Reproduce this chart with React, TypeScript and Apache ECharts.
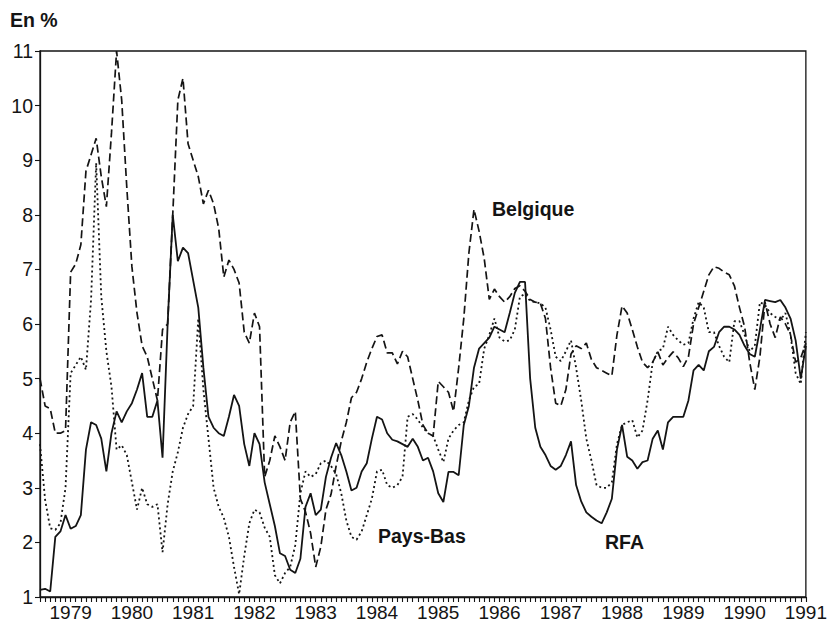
import React, { useEffect, useRef } from "react";
import * as echarts from "echarts";

// Monthly categories, July 1978 to January 1991
const months: string[] = [];
for (let y = 1978; y <= 1991; y++) {
  for (let m = 1; m <= 12; m++) {
    if ((y === 1978 && m < 7) || (y === 1991 && m > 1)) continue;
    months.push(`${y}-${String(m).padStart(2, "0")}`);
  }
}

const rfa: number[] = [
  1.13, 1.15, 1.1, 2.1, 2.2, 2.5,
  2.25, 2.3, 2.5, 3.7, 4.2, 4.15, 3.9, 3.3, 4.0, 4.4, 4.2, 4.4,
  4.55, 4.8, 5.1, 4.3, 4.3, 4.6, 3.55, 6.0, 8.0, 7.15, 7.4, 7.3,
  6.8, 6.3, 5.2, 4.3, 4.1, 4.0, 3.95, 4.3, 4.7, 4.5, 3.8, 3.4,
  4.0, 3.8, 3.1, 2.7, 2.3, 1.8, 1.75, 1.5, 1.44, 1.7, 2.65, 2.9,
  2.5, 2.6, 3.2, 3.55, 3.82, 3.6, 3.3, 2.95, 3.0, 3.3, 3.45, 3.9,
  4.3, 4.25, 4.0, 3.88, 3.85, 3.8, 3.75, 3.9, 3.75, 3.5, 3.55, 3.3,
  2.9, 2.74, 3.29, 3.29, 3.23, 4.15, 4.5, 5.2, 5.55, 5.65, 5.75, 5.95,
  5.9, 5.85, 6.2, 6.57, 6.77, 6.77, 5.0, 4.1, 3.75, 3.6, 3.4, 3.33,
  3.4, 3.6, 3.85, 3.05, 2.75, 2.55, 2.47, 2.4, 2.35, 2.55, 2.8, 3.7,
  4.15, 3.57, 3.5, 3.35, 3.47, 3.5, 3.9, 4.05, 3.7, 4.2, 4.3, 4.3,
  4.3, 4.6, 5.15, 5.25, 5.15, 5.5, 5.58, 5.85, 5.95, 5.95, 5.9, 5.8,
  5.6, 5.45, 5.4, 5.9, 6.44, 6.42, 6.4, 6.44, 6.3, 6.1, 5.7, 5.0,
  5.6,
];

const belgique: number[] = [
  5.0, 4.5, 4.45, 4.0, 4.0, 4.05,
  6.95, 7.1, 7.45, 8.8, 9.1, 9.4, 8.7, 8.15, 9.5, 11.0, 10.1, 8.5,
  7.05, 6.2, 5.6, 5.4, 5.0, 4.6, 5.9, 6.0, 8.0, 10.1, 10.5, 9.3,
  9.0, 8.7, 8.2, 8.45, 8.2, 7.75, 6.86, 7.17, 7.0, 6.75, 5.85, 5.65,
  6.2, 5.95, 3.2, 3.5, 3.95, 3.75, 3.5, 4.2, 4.4, 2.8, 2.56, 2.17,
  1.55, 1.92, 2.6, 2.88, 3.4, 3.85, 4.2, 4.65, 4.75, 5.0, 5.3, 5.55,
  5.77, 5.8, 5.47, 5.47, 5.27, 5.5, 5.4, 5.0, 4.6, 4.15, 4.0, 3.95,
  4.95, 4.85, 4.75, 4.4, 5.2, 6.1, 7.3, 8.1, 7.7, 7.2, 6.45, 6.64,
  6.5, 6.4, 6.5, 6.65, 6.7, 6.6, 6.45, 6.4, 6.38, 6.1, 5.2, 4.55,
  4.5, 4.8, 5.45, 5.6, 5.55, 5.65, 5.35, 5.2, 5.15, 5.1, 5.05, 5.8,
  6.33, 6.2, 5.9, 5.58, 5.3, 5.2, 5.3, 5.49, 5.25, 5.38, 5.49, 5.38,
  5.22, 5.4, 6.0, 6.3, 6.6, 6.9, 7.05, 7.02, 6.95, 6.9, 6.7, 6.3,
  5.95, 5.3, 4.8, 5.4, 6.4, 6.0, 5.75, 6.13, 6.0, 5.8, 5.3, 5.38,
  5.65,
];

const paysBas: number[] = [
  3.8, 2.78, 2.26, 2.23, 2.35, 3.0,
  5.1, 5.25, 5.4, 5.16, 6.44, 8.95, 6.5, 5.5, 4.85, 3.7, 3.78, 3.6,
  3.1, 2.6, 3.0, 2.7, 2.65, 2.7, 1.82, 2.7, 3.3, 3.65, 4.1, 4.35,
  4.5, 6.1, 4.8, 3.9, 3.0, 2.65, 2.45, 2.1, 1.55, 1.05, 1.75, 2.35,
  2.6, 2.55, 2.27, 2.1, 1.4, 1.25, 1.44, 1.55, 1.95, 2.9, 3.3, 3.2,
  3.25, 3.45, 3.5, 3.4, 3.25, 2.9, 2.4, 2.1, 2.05, 2.2, 2.5, 2.8,
  3.3, 3.33, 3.05, 3.0, 3.05, 3.2, 4.3, 4.35, 4.25, 4.1, 4.0, 3.95,
  3.7, 3.47, 3.9, 4.05, 4.15, 4.2, 4.6, 4.85, 4.9, 5.55, 5.8, 6.1,
  5.75, 5.68, 5.7, 5.9, 6.5, 6.55, 6.42, 6.4, 6.38, 6.3, 5.9, 5.4,
  5.32, 5.5, 5.7, 5.2, 4.6, 3.9, 3.5, 3.05, 3.0, 3.0, 3.1, 3.8,
  4.15, 4.2, 4.24, 3.92, 4.05, 4.6, 5.3, 5.5, 5.55, 5.95, 5.8, 5.7,
  5.62, 5.65, 6.1, 6.4, 6.3, 5.85, 5.85, 5.6, 5.4, 5.3, 6.05, 6.05,
  5.8, 5.5, 5.6, 6.4, 6.35, 6.2, 6.13, 6.07, 6.2, 5.8, 5.1, 4.9,
  5.85,
];

const FONT = "'Liberation Sans', Arial, Helvetica, sans-serif";
const INK = "#141414";

export default function App() {
  const ref = useRef<HTMLDivElement>(null);

  useEffect(() => {
    if (!ref.current) return;
    const chart = echarts.init(ref.current, undefined, { renderer: "svg" });
    const lineBase = { type: "line" as const, showSymbol: false, symbol: "none", smooth: false };
    const note = { fontSize: 19.5, fontWeight: "bold" as const, fontFamily: FONT, fill: INK };
    chart.setOption({
      animation: false,
      backgroundColor: "#ffffff",
      grid: {
        left: 40,
        top: 51,
        width: 778,
        height: 546,
        show: true,
        borderColor: INK,
        borderWidth: 1.3,
      },
      xAxis: {
        type: "category",
        data: months,
        boundaryGap: false,
        axisLine: { show: true, lineStyle: { color: INK, width: 1.3 } },
        axisTick: { show: true, interval: 0, length: 5, lineStyle: { color: INK, width: 1.1 } },
        axisLabel: {
          interval: (_idx: number, val: string) => val.endsWith("-01"),
          formatter: (val: string) => val.slice(0, 4),
          color: INK,
          fontSize: 19,
          fontFamily: FONT,
          margin: 6,
          showMaxLabel: true,
        },
        splitLine: { show: false },
      },
      yAxis: {
        type: "value",
        min: 1,
        max: 11,
        interval: 1,
        axisLine: { show: true, lineStyle: { color: INK, width: 1.3 } },
        axisTick: { show: true, length: 5, lineStyle: { color: INK, width: 1.1 } },
        axisLabel: { color: INK, fontSize: 19.5, fontFamily: FONT, margin: 7 },
        splitLine: { show: false },
      },
      series: [
        { ...lineBase, name: "RFA", data: rfa, lineStyle: { color: INK, width: 1.8, type: "solid" } },
        { ...lineBase, name: "Belgique", data: belgique, lineStyle: { color: INK, width: 1.7, type: [8, 4] } },
        { ...lineBase, name: "Pays-Bas", data: paysBas, lineStyle: { color: INK, width: 1.8, type: [2, 3] } },
      ],
      graphic: [
        { type: "text", left: 10, top: 10, style: { text: "En %", ...note } },
        { type: "text", left: 492, top: 199, style: { text: "Belgique", ...note } },
        { type: "text", left: 378, top: 526, style: { text: "Pays-Bas", ...note } },
        { type: "text", left: 605, top: 532, style: { text: "RFA", ...note } },
      ],
    });
    return () => chart.dispose();
  }, []);

  return <div ref={ref} style={{ width: 830, height: 624, position: "absolute", left: 0, top: 0 }} />;
}
